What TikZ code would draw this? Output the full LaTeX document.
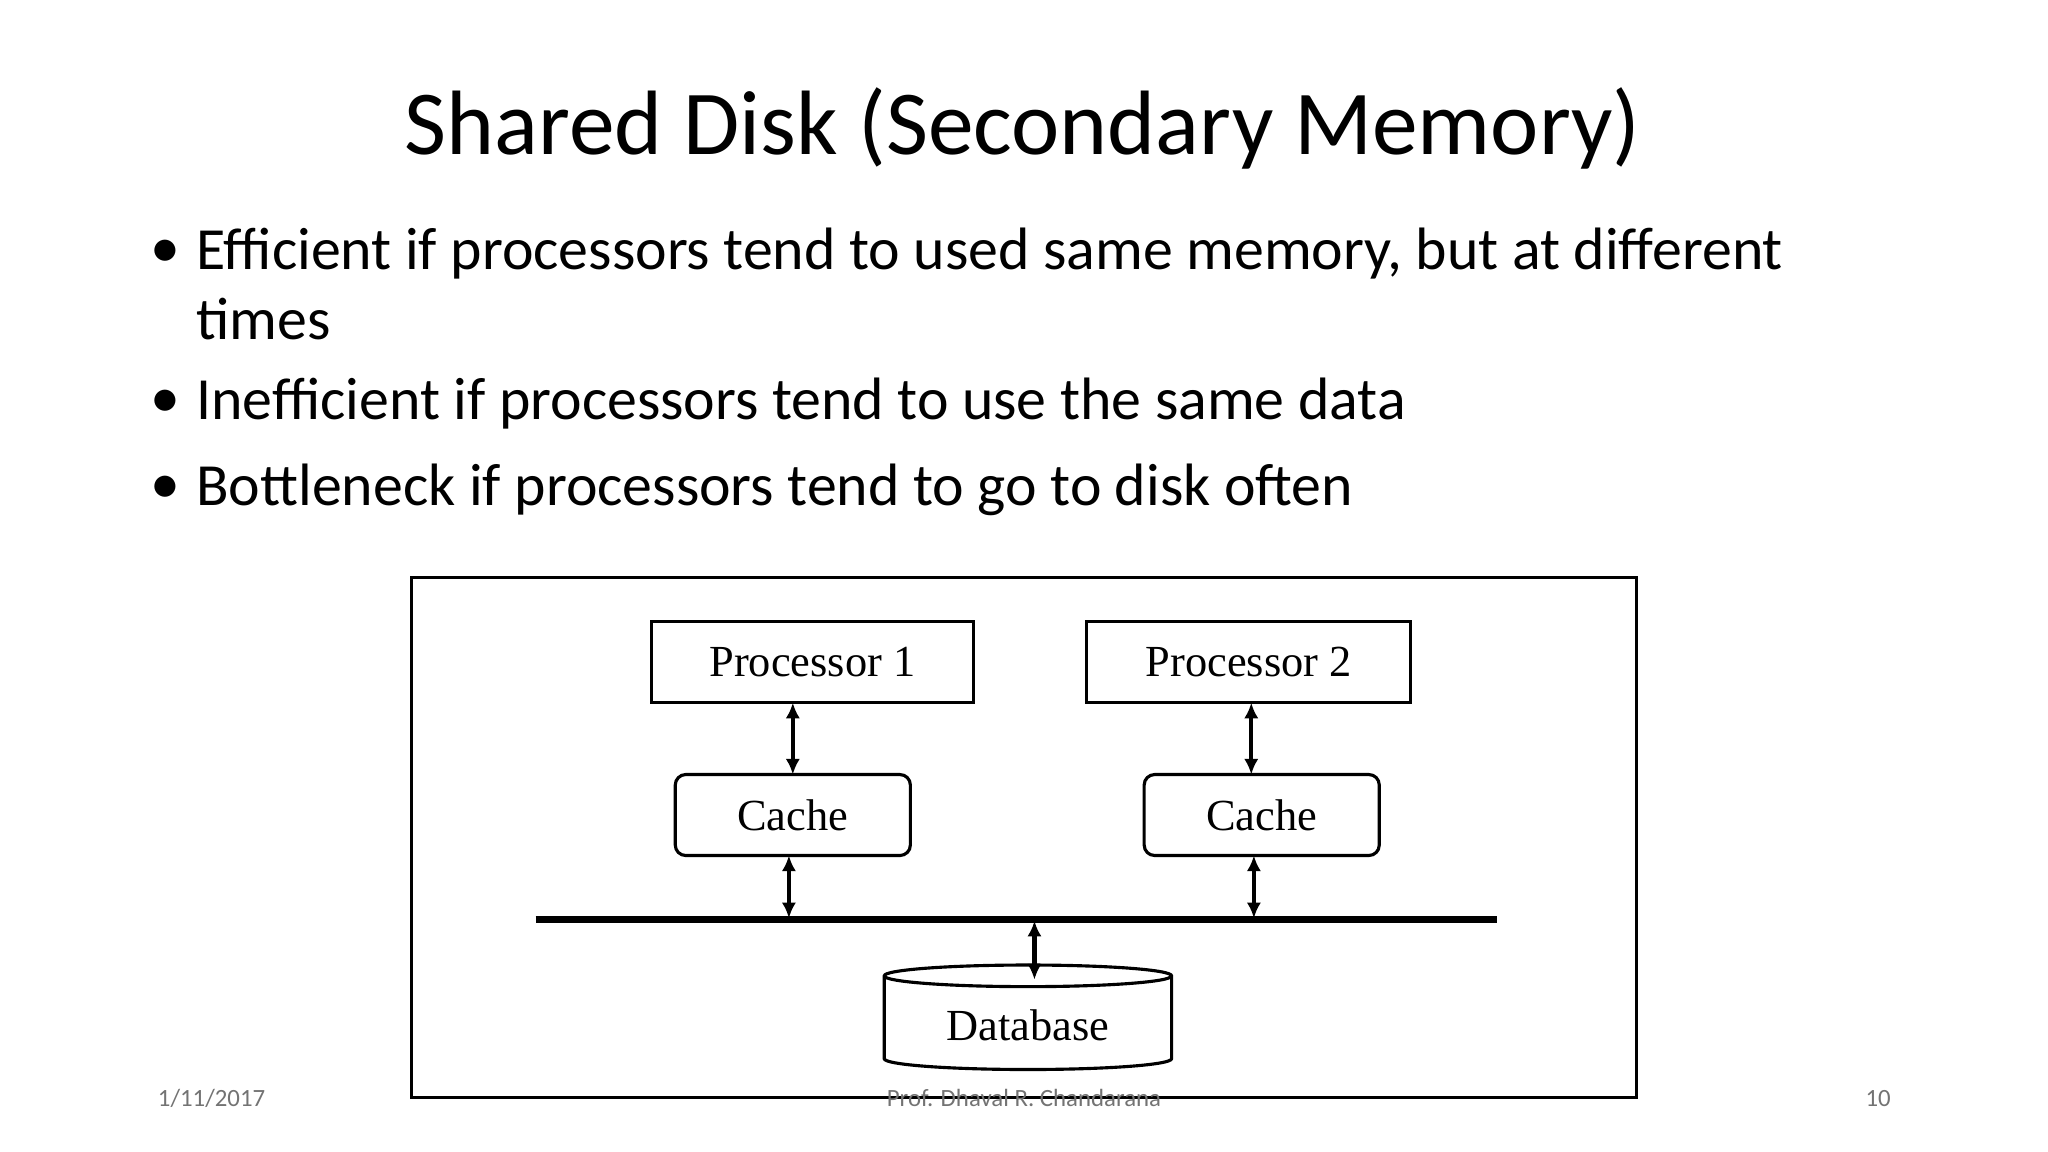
\documentclass[tikz,border=0pt]{standalone}
\usepackage{fontspec}
\setmainfont{Carlito}
\newfontfamily\dgm{Liberation Serif}
\usetikzlibrary{shapes.geometric,arrows.meta}
\begin{document}
\begin{tikzpicture}[x=0.5pt,y=-0.5pt,
  box/.style={draw,line width=1.2pt,minimum width=123pt,minimum height=31pt,font=\dgm\fontsize{17}{19}\selectfont},
  cbox/.style={draw,line width=1.2pt,rounded corners=4pt,minimum width=90pt,minimum height=31pt,font=\dgm\fontsize{17}{19}\selectfont},
  dar/.style={{Latex[length=6pt,width=5.5pt]}-{Latex[length=6pt,width=5.5pt]},line width=1.6pt},
  bul/.style={anchor=west,inner sep=0pt,font=\fontsize{22.9}{27}\selectfont},
  foot/.style={font=\fontsize{9.5}{11}\selectfont,text=black!55}]
\useasboundingbox (0,0) rectangle (1568,882);
\node[font=\fontsize{35}{42}\selectfont] (title) at (783,98) {Shared Disk (Secondary Memory)};
\node[bul,anchor=center] (b1) at (127,194) {\textbullet};
\node[bul] (t1) at (150,194) {Efficient if processors tend to used same memory, but at different};
\node[bul] (t1b) at (150,244) {times};
\node[bul,anchor=center] (b2) at (127,309) {\textbullet};
\node[bul] (t2) at (150,309) {Inefficient if processors tend to use the same data};
\node[bul,anchor=center] (b3) at (127,375) {\textbullet};
\node[bul] (t3) at (150,375) {Bottleneck if processors tend to go to disk often};
\draw[line width=1.2pt] (315,442) rectangle (1253,840);
\node[box] (p1) at (622,507) {Processor 1};
\node[box,minimum width=124pt] (p2) at (956,507) {Processor 2};
\node[cbox] (c1) at (607,624) {Cache};
\node[cbox] (c2) at (966,624) {Cache};
\coordinate (busl) at (410,704); \coordinate (busr) at (1146,704);
\draw[line width=2.5pt] (busl) -- (busr);
\node[cylinder,shape border rotate=90,draw,line width=1.2pt,aspect=0.12,minimum width=110pt,minimum height=40pt,font=\dgm\fontsize{17}{19}\selectfont] (db) at (787,785) {Database};
\coordinate (a1) at (607,538); \coordinate (a1b) at (607,593);
\coordinate (a2) at (604,655); \coordinate (a2b) at (604,703);
\coordinate (a3) at (958,538); \coordinate (a3b) at (958,593);
\coordinate (a4) at (960,655); \coordinate (a4b) at (960,703);
\coordinate (a5) at (792,705); \coordinate (a5b) at (792,750);
\draw[dar] (a1) -- (a1b); \draw[dar] (a2) -- (a2b);
\draw[dar] (a3) -- (a3b); \draw[dar] (a4) -- (a4b);
\draw[dar] (a5) -- (a5b);
\node[foot] (f1) at (162,841) {1/11/2017};
\node[foot] (f2) at (784,841) {Prof. Dhaval R. Chandarana};
\node[foot] (f3) at (1438,841) {10};
\end{tikzpicture}
\end{document}
